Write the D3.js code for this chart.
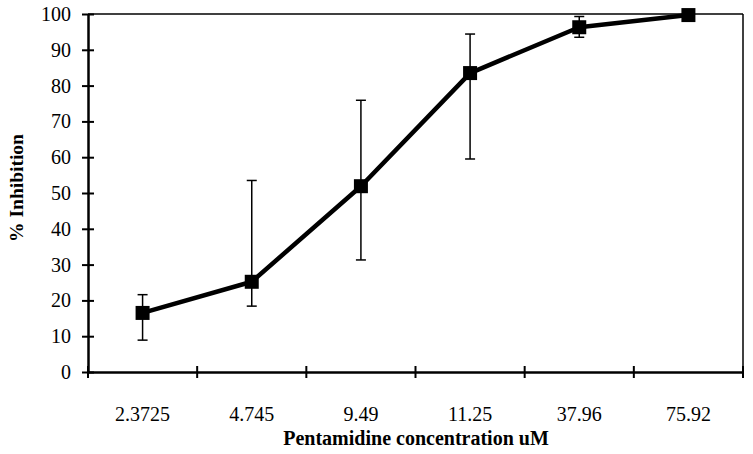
<!DOCTYPE html>
<html><head><meta charset="utf-8">
<script src="https://cdn.jsdelivr.net/npm/d3@7"></script>
<style>body{margin:0;background:#fff}svg{display:block}</style>
</head><body>
<svg id="c" width="753" height="454"></svg>
<script>
const categories = ["2.3725","4.745","9.49","11.25","37.96","75.92"];
const values = [16.5, 25.2, 51.9, 83.5, 96.3, 99.7];
const errUpper = [21.6, 53.5, 75.9, 94.4, 99.3, 99.7];
const errLower = [8.9, 18.4, 31.3, 59.5, 93.5, 99.7];
const yTicks = [0,10,20,30,40,50,60,70,80,90,100];

const svg = d3.select("#c");
const m = {l:88, t:14, r:753-743, b:454-372};
const W = 753, H = 454;
const x = d3.scaleBand().domain(categories).range([m.l, W-m.r]);
const y = d3.scaleLinear().domain([0,100]).range([H-m.b, m.t]);
const font = "'Liberation Serif', 'DejaVu Serif', serif";

// frame top/right
svg.append("line").attr("x1",m.l).attr("x2",W-m.r).attr("y1",m.t).attr("y2",m.t).attr("stroke","#000").attr("stroke-width",1.5);
svg.append("line").attr("x1",W-m.r).attr("x2",W-m.r).attr("y1",m.t).attr("y2",H-m.b).attr("stroke","#000").attr("stroke-width",1.5);

// y axis
const ya = svg.append("g").attr("transform",`translate(${m.l},0)`)
  .call(d3.axisLeft(y).tickValues(yTicks).tickSize(0).tickPadding(17));
ya.select(".domain").attr("stroke","#000").attr("stroke-width",2.5);
ya.selectAll(".tick").append("line").attr("x1",-6).attr("x2",6).attr("stroke","#000").attr("stroke-width",2);
ya.selectAll("text").attr("font-family",font).attr("font-size",20).attr("fill","#000");

// x axis
const xa = svg.append("g").attr("transform",`translate(0,${H-m.b})`)
  .call(d3.axisBottom(x).tickSize(0).tickPadding(35));
xa.select(".domain").attr("stroke","#000").attr("stroke-width",2.5);
xa.selectAll("text").attr("font-family",font).attr("font-size",20).attr("fill","#000");
const bounds = categories.map(c => x(c)).concat([x(categories[categories.length-1]) + x.bandwidth()]);
svg.append("g").selectAll("line").data(bounds).join("line")
  .attr("x1",d=>d).attr("x2",d=>d).attr("y1",H-m.b-6).attr("y2",H-m.b+6)
  .attr("stroke","#000").attr("stroke-width",2);

const cx = c => x(c) + x.bandwidth()/2;

// error bars
const eb = svg.append("g");
categories.forEach((c,i) => {
  if (errUpper[i] === errLower[i]) return;
  eb.append("line").attr("x1",cx(c)).attr("x2",cx(c)).attr("y1",y(errUpper[i])).attr("y2",y(errLower[i])).attr("stroke","#000").attr("stroke-width",1.5);
  [errUpper[i], errLower[i]].forEach(v => {
    eb.append("line").attr("x1",cx(c)-5).attr("x2",cx(c)+5).attr("y1",y(v)).attr("y2",y(v)).attr("stroke","#000").attr("stroke-width",1.5);
  });
});

// line
const line = d3.line().x((d,i)=>cx(categories[i])).y(d=>y(d));
svg.append("path").datum(values).attr("d",line).attr("fill","none").attr("stroke","#000").attr("stroke-width",4.5).attr("stroke-linejoin","round");

// markers
svg.append("g").selectAll("rect").data(values).join("rect")
  .attr("x",(d,i)=>cx(categories[i])-7).attr("y",d=>y(d)-7).attr("width",14).attr("height",14).attr("fill","#000");

// labels
svg.append("text").attr("x",416).attr("y",445).attr("text-anchor","middle")
  .attr("font-family",font).attr("font-weight","bold").attr("font-size",20).text("Pentamidine concentration uM");
svg.append("text").attr("transform",`translate(23,188) rotate(-90)`).attr("text-anchor","middle")
  .attr("font-family",font).attr("font-weight","bold").attr("font-size",19.5).text("% Inhibition");
</script>
</body></html>
